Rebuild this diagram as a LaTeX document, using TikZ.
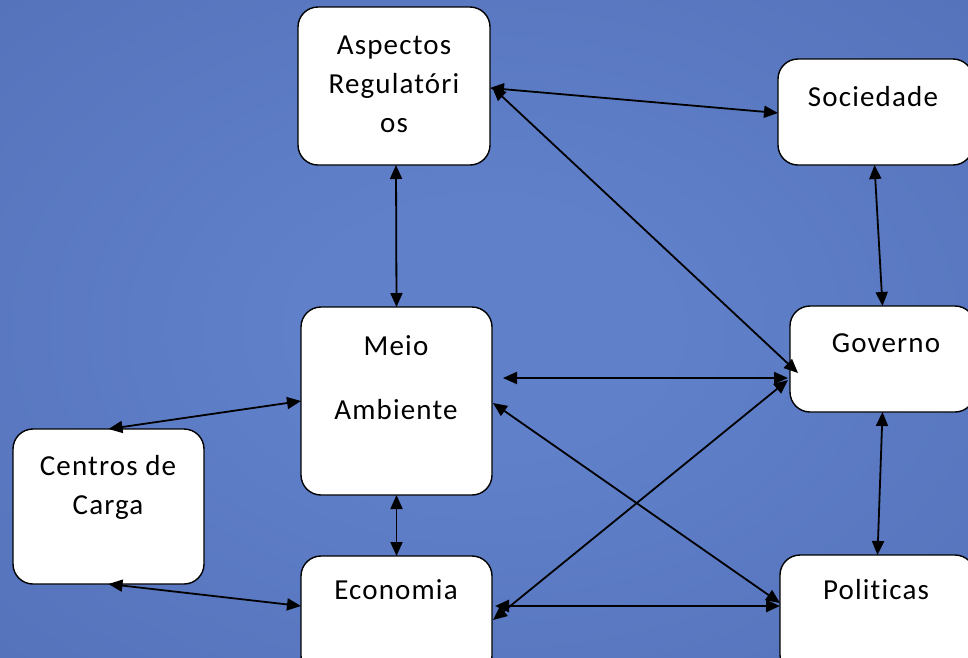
\documentclass[tikz,border=0pt]{standalone}
\usepackage{fontspec}
\setmainfont{Carlito}[Ligatures={NoCommon},LetterSpace=4]
\usetikzlibrary{arrows.meta,calc}
\definecolor{bgin}{HTML}{6080CA}
\definecolor{bgout}{HTML}{4A67AD}
\pgfdeclareradialshading{bgshade}{\pgfpoint{0bp}{0bp}}{color(0bp)=(bgin); color(8bp)=(bgin); color(50bp)=(bgout); color(60bp)=(bgout)}
\tikzset{
  box/.style={draw=black,line width=1.4pt,fill=white,rounded corners=20pt,inner sep=0pt,outer sep=0pt,anchor=north west},
  lbl/.style={font=\fontsize{29}{39}\selectfont,align=center,inner sep=0pt,text=black},
  bi/.style={line width=1.8pt,{Triangle[length=14pt,width=12pt]}-{Triangle[length=14pt,width=12pt]}},
}
\begin{document}
\begin{tikzpicture}[x=1pt,y=-1pt]
\useasboundingbox (0,0) rectangle (968,657);
\shade[shading=bgshade] (-90,-60) rectangle (1058,717);
% boxes
\node[box,minimum width=192pt,minimum height=158pt] (ar) at (298,7) {};
\node[box,minimum width=195pt,minimum height=106pt] (soc) at (778,59) {};
\node[box,minimum width=185pt,minimum height=106pt] (gov) at (790,306) {};
\node[box,minimum width=191pt,minimum height=188pt] (meio) at (301,307) {};
\node[box,minimum width=191pt,minimum height=155pt] (cc) at (13,429) {};
\node[box,minimum width=191pt,minimum height=120pt] (eco) at (301,556) {};
\node[box,minimum width=195pt,minimum height=120pt] (pol) at (780,555) {};
% texts
\node[lbl] (tar) at (394,84) {Aspectos\\Regulatóri\\os};
\node[lbl] (tsoc) at (873,97) {Sociedade};
\node[lbl] (tgov) at (886,343) {Governo};
\node[lbl] (tmeio1) at (396,346) {Meio};
\node[lbl] (tmeio2) at (396,410) {Ambiente};
\node[lbl] (tcc) at (108,487) {Centros de\\Carga};
\node[lbl] (teco) at (396,590) {Economia};
\node[lbl] (tpol) at (876,590) {Politicas};
% connectors
\draw[bi] ($(ar.east)+(0,2)$) -- ($(soc.west)+(0,1)$);
\draw[bi] ($(ar.south)+(2,0)$) -- (meio.north);
\draw[bi] ($(ar.east)+(2,1)$) -- ($(gov.west)+(8,14)$);
\draw[bi] ($(soc.south)+(-1,0)$) -- (gov.north);
\draw[bi] ($(meio.east)+(11,-23)$) -- ($(gov.west)+(-2,19)$);
\draw[bi] ($(meio.east)+(1,2)$) -- ($(pol.west)+(0,-12)$);
\draw[bi] ($(eco.east)+(1,4)$) -- ($(gov.west)+(-2,21)$);
\draw[bi,line width=2.6pt] ($(eco.east)+(3,-10)$) -- ($(pol.west)+(0,-9)$);
\draw[bi] (gov.south) -- (pol.north);
\draw[bi] (meio.south) -- (eco.north);
\draw[bi] (cc.north) -- (meio.west);
\draw[bi] (cc.south) -- ($(eco.west)+(0,-10)$);
\end{tikzpicture}
\end{document}
